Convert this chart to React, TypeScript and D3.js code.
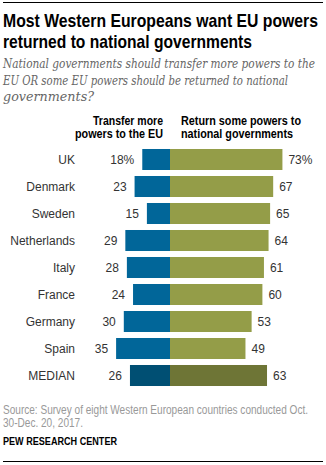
import React from "react";
import * as d3 from "d3";

const countries = ["UK", "Denmark", "Sweden", "Netherlands", "Italy", "France", "Germany", "Spain", "MEDIAN"];
const transferMore = [18, 23, 15, 29, 28, 24, 30, 35, 26];
const returnSome = [73, 67, 65, 64, 61, 60, 53, 49, 63];

const W = 326;
const H = 465;
const FONT = "Arial, 'Liberation Sans', Helvetica, sans-serif";
const SERIF = "'DejaVu Serif', 'Liberation Serif', serif";

function T(props: any) {
  const { len, children, ...rest } = props;
  return (
    <text {...rest} textLength={len} lengthAdjust="spacingAndGlyphs">
      {children}
    </text>
  );
}

export default function App() {
  const x = d3.scaleLinear().domain([-50, 90]).range([170 - 77, 170 + 138.6]);
  const y = d3
    .scaleBand<string>()
    .domain(countries)
    .range([146, 389])
    .paddingInner(0.222)
    .paddingOuter(0.111);

  return (
    <svg
      width={W}
      height={H}
      style={{ position: "absolute", left: 0, top: 0, background: "#fff" }}
      fontFamily={FONT}
    >
      <line x1={3} x2={323} y1={2.5} y2={2.5} stroke="#000" strokeWidth={1} />
      <T x={3} y={27} len={315} fontSize={18.5} fontWeight="bold" fill="#000">
        Most Western Europeans want EU powers
      </T>
      <T x={3} y={48} len={249} fontSize={18.5} fontWeight="bold" fill="#000">
        returned to national governments
      </T>
      <g fontFamily={SERIF} fontStyle="italic" fontSize={12.5} fill="#666">
        <T x={3} y={68} len={312}>National governments should transfer more powers to the</T>
        <T x={3} y={85} len={285}>EU OR some EU powers should be returned to national</T>
        <T x={3} y={101} len={91}>governments?</T>
      </g>

      <g fontSize={12} fontWeight="bold" fill="#000">
        <T x={163} y={125} len={70} textAnchor="end">Transfer more</T>
        <T x={163} y={138} len={88} textAnchor="end">powers to the EU</T>
        <T x={181} y={125} len={120}>Return some powers to</T>
        <T x={181} y={138} len={112}>national governments</T>
      </g>

      {countries.map((c, i) => {
        const yy = y(c)!;
        const bw = y.bandwidth();
        const isMed = c === "MEDIAN";
        const blue = isMed ? "#004f73" : "#016699";
        const green = isMed ? "#6e7536" : "#949d48";
        const mid = yy + bw / 2 + 4.5;
        return (
          <g key={c}>
            <rect x={x(-transferMore[i])} y={yy} width={x(0) - x(-transferMore[i])} height={bw} fill={blue} />
            <rect x={x(0)} y={yy} width={x(returnSome[i]) - x(0)} height={bw} fill={green} />
            <text x={75} y={mid} textAnchor="end" fontSize={12} fill="#333">
              {c}
            </text>
            <text x={x(-transferMore[i]) - 8} y={mid} textAnchor="end" fontSize={12} fill="#333">
              {transferMore[i] + (i === 0 ? "%" : "")}
            </text>
            <text x={x(returnSome[i]) + 6} y={mid} fontSize={12} fill="#333">
              {returnSome[i] + (i === 0 ? "%" : "")}
            </text>
          </g>
        );
      })}

      <g fontSize={12} fill="#999">
        <T x={3} y={414} len={305}>Source: Survey of eight Western European countries conducted Oct.</T>
        <T x={3} y={427} len={80}>30-Dec. 20, 2017.</T>
      </g>
      <T x={3} y={445} len={114} fontSize={10.5} fontWeight="bold" fill="#000">
        PEW RESEARCH CENTER
      </T>
      <line x1={3} x2={323} y1={461.5} y2={461.5} stroke="#000" strokeWidth={1} />
    </svg>
  );
}
